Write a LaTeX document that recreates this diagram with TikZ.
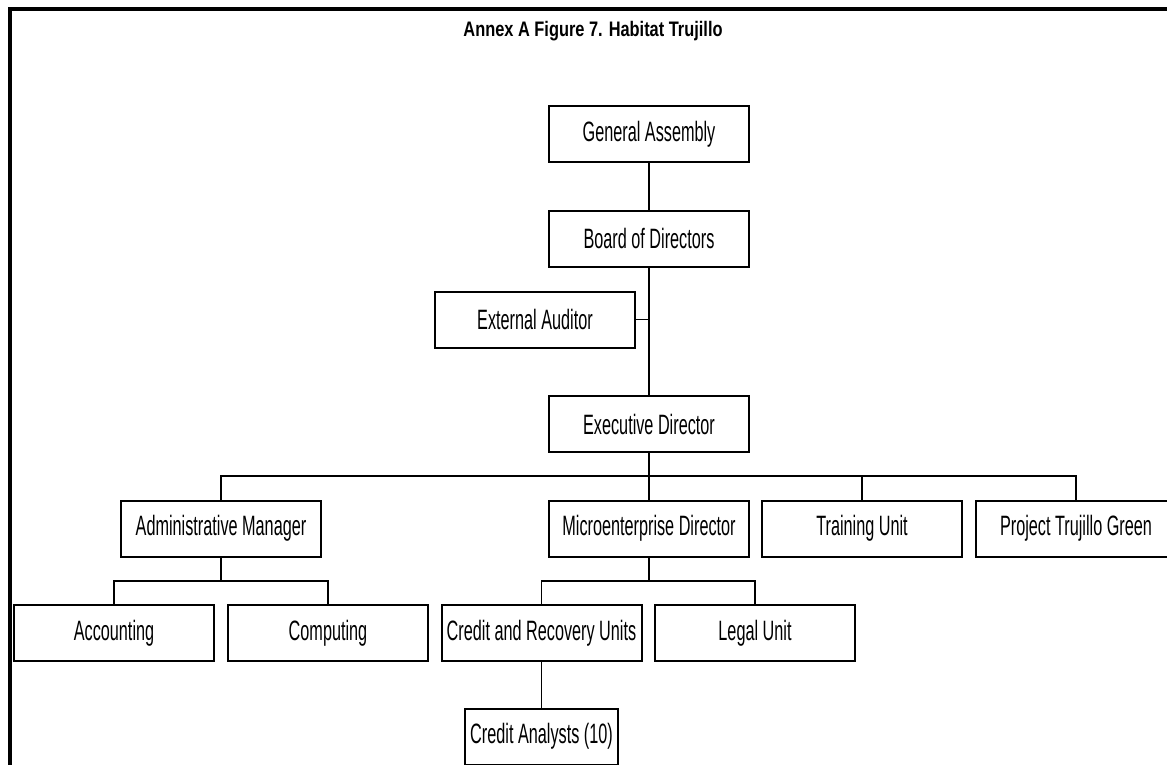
\documentclass[tikz,border=0pt]{standalone}
\usepackage{fontspec}
\usepackage{tikz}
\usetikzlibrary{positioning,calc}
\newfontfamily\orgfont{Liberation Sans}[FakeStretch=0.58]
\newfontfamily\headfont{Liberation Sans}[FakeStretch=0.78]
\tikzset{
  unit/.style={draw,line width=1pt,fill=white,align=center,minimum width=100pt,minimum height=28pt,inner sep=2pt,font=\orgfont\fontsize{14}{16}\selectfont},
  link/.style={line width=0.6pt},
  frame/.style={line width=1.6pt}
}
\begin{document}
\begin{tikzpicture}[x=0.5pt,y=-0.5pt]
\useasboundingbox (0,0) rectangle (1167,765);
% frame and heading
\draw[frame] (10,765) -- (10,9) -- (1167,9);
\node[font=\headfont\fontsize{10.5}{12}\selectfont\bfseries] (title) at (593,31) {Annex A Figure 7. Habitat Trujillo};
% top of the chart
\node[unit] (ga) at (649,134) {General Assembly};
\node[unit] (bd) at (649,238.5) {Board of Directors};
\node[unit] (ea) at (535,319.5) {External Auditor};
\node[unit] (ed) at (649,424) {Executive Director};
% second level
\node[unit] (am) at (221,528.5) {Administrative Manager};
\node[unit] (md) at (649,528.5) {Microenterprise Director};
\node[unit] (tu) at (862,528.5) {Training Unit};
\node[unit] (pt) at (1076,528.5) {Project Trujillo Green};
% third level
\node[unit] (acc) at (114,633) {Accounting};
\node[unit] (comp) at (328,633) {Computing};
\node[unit] (cru) at (541.5,633) {Credit and Recovery Units};
\node[unit] (lu) at (755,633) {Legal Unit};
\node[unit,minimum width=76.5pt] (ca) at (541.5,736.5) {Credit Analysts (10)};
% connectors
\coordinate (bus) at (649,476);
\coordinate (adm) at (221,581);
\coordinate (mic) at (649,581);
\draw[link] (ga) -- (bd);
\draw[link] (bd) -- (ed);
\draw[link] (ea) -- (ea -| bd);
\draw[link] (ed) -- (bus);
\draw[link] (am) |- (bus) -| (pt);
\draw[link] (bus) -- (md);
\draw[link] (tu) -- (tu |- bus);
\draw[link] (am) -- (adm);
\draw[link] (acc) |- (adm) -| (comp);
\draw[link] (md) -- (mic);
\draw[link] (cru) |- (mic) -| (lu);
\draw[link] (cru) -- (ca);
\end{tikzpicture}
\end{document}
